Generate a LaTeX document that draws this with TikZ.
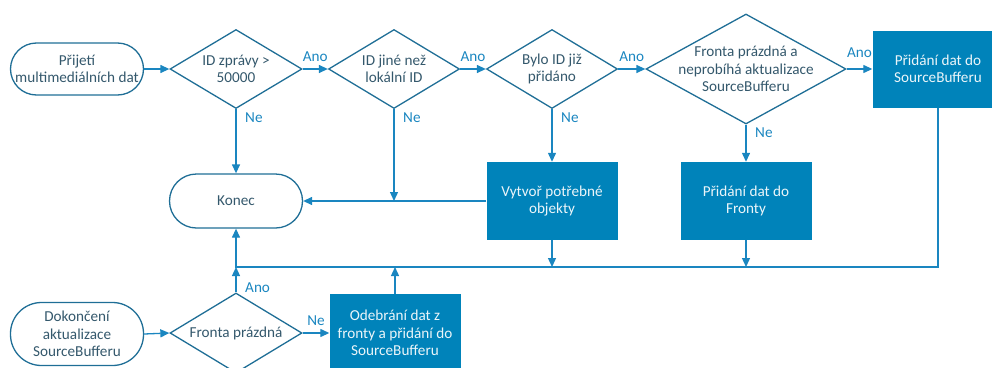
\documentclass[tikz,border=0pt]{standalone}
\usepackage{fontspec}
\setmainfont{Carlito}
\usetikzlibrary{arrows.meta,shapes.geometric,calc}
\definecolor{flowline}{HTML}{1A86C0}
\definecolor{outline}{HTML}{1F6E96}
\definecolor{procfill}{HTML}{0083BA}
\definecolor{inktext}{HTML}{34586C}

\begin{document}
\begin{tikzpicture}[x=1pt,y=-1pt,
  font=\fontsize{15.2}{17.5}\selectfont,
  terminal/.style={draw=outline, line width=1.3pt, rectangle, inner sep=0pt,
    minimum width=133pt, text=inktext, align=center},
  decision/.style={draw=outline, line width=1.3pt, diamond, inner sep=0pt},
  dtext/.style={text=inktext, align=center, inner sep=0pt},
  process/.style={fill=procfill, rectangle, inner sep=0pt, minimum width=131pt,
    minimum height=78pt, text=white!92!procfill, align=center},
  flow/.style={draw=flowline, line width=1.3pt,
    -{Triangle[length=9pt,width=8pt]}},
  lbl/.style={text=flowline, inner sep=1pt}]

\useasboundingbox (0,0) rectangle (992,367);
\clip (0,0) rectangle (992,367);

% upper row: message handling
\node[terminal, minimum height=52pt, rounded corners=26pt] (start) at (77,69)
  {Přijetí\\multimediálních dat};
\node[decision, minimum width=132pt, minimum height=79pt,
  label={[dtext]center:ID zprávy >\\50000}] (d1) at (236,69) {};
\node[decision, minimum width=131pt, minimum height=79pt,
  label={[dtext]center:ID jiné než\\lokální ID}] (d2) at (394,69) {};
\node[decision, minimum width=131pt, minimum height=79pt,
  label={[dtext]center:Bylo ID již\\přidáno}] (d3) at (552,69) {};
\node[decision, minimum width=200pt, minimum height=110pt,
  label={[dtext]center:Fronta prázdná a\\neprobíhá aktualizace\\SourceBufferu}] (d4) at (746,69) {};
\node[process, minimum height=77pt] (sbadd) at (938,69)
  {Přidání dat do\\SourceBufferu};

% middle row
\node[terminal, minimum height=54pt, rounded corners=27pt] (konec) at (236,201) {Konec};
\node[process] (vytvor) at (552,201) {Vytvoř potřebné\\objekty};
\node[process] (fronta) at (746,201) {Přidání dat do\\Fronty};

% lower row: end of SourceBuffer update
\node[terminal, minimum height=63pt, rounded corners=31pt] (finish) at (77,334)
  {Dokončení\\aktualizace\\SourceBufferu};
\node[decision, minimum width=132pt, minimum height=80pt,
  label={[dtext]center:Fronta prázdná}] (d5) at (236,333) {};
\node[process] (odebr) at (395,333) {Odebrání dat z\\fronty a přidání do\\SourceBufferu};

\coordinate (bus) at (236,267);

% connectors of the upper row
\draw[flow] (start.east) -- (d1.west);
\draw[flow] (d1.east) -- node[lbl, above=6pt] {Ano} (d2.west);
\draw[flow] (d2.east) -- node[lbl, above=6pt] {Ano} (d3.west);
\draw[flow] (d3.east) -- node[lbl, above=6pt] {Ano} (d4.west);
\draw[flow] (d4.east) -- node[lbl, above=10pt] {Ano} (sbadd.west);

\draw[flow] (d1.south) -- (konec.north);
\node[lbl, anchor=north west, xshift=8pt, yshift=-2pt] at (d1.south) {Ne};
\draw[flow] (d2.south) -- (d2.south |- konec.east);
\node[lbl, anchor=north west, xshift=8pt, yshift=-2pt] at (d2.south) {Ne};
\draw[flow] (d3.south) -- (vytvor.north);
\node[lbl, anchor=north west, xshift=8pt, yshift=-2pt] at (d3.south) {Ne};
\draw[flow] (d4.south) -- (fronta.north);
\node[lbl, anchor=north west, xshift=8pt, yshift=-2pt] at (d4.south) {Ne};

\draw[flow] (vytvor.west) -- (konec.east);

% return bus into Konec
\draw[flow] (sbadd.south) |- (bus) -- (konec.south);
\draw[flow] (vytvor.south) -- (vytvor.south |- bus);
\draw[flow] (fronta.south) -- (fronta.south |- bus);

% connectors of the lower row
\draw[flow] (finish.east) -- (d5.west);
\draw[flow] (d5.north) -- (bus);
\node[lbl, anchor=west, xshift=8pt] at ($(d5.north)!0.5!(bus)+(0,8)$) {Ano};
\draw[flow] (d5.east) -- node[lbl, above=6pt] {Ne} (odebr.west);
\draw[flow] (odebr.north) -- (odebr.north |- bus);

\end{tikzpicture}
\end{document}
